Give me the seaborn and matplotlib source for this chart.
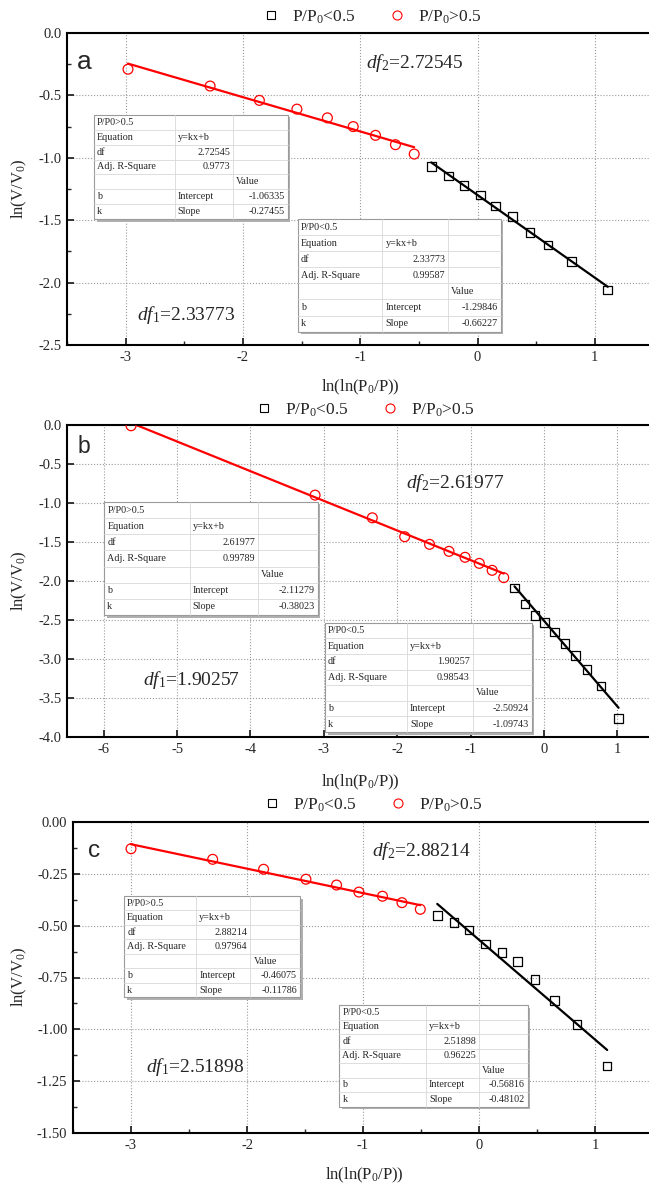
import numpy as np
import matplotlib
matplotlib.use('Agg')
import matplotlib.pyplot as plt
import matplotlib.ticker as mticker
import seaborn as sns
from matplotlib.lines import Line2D
from matplotlib.patches import Rectangle

# ---------------- data ----------------
# panel a
a_x_hi = [-2.98, -2.28, -1.86, -1.54, -1.28, -1.06, -0.87, -0.70, -0.54]
a_y_hi = [-0.29, -0.425, -0.54, -0.61, -0.68, -0.75, -0.82, -0.895, -0.97]
a_x_lo = [-0.394, -0.249, -0.114, 0.023, 0.153, 0.298, 0.447, 0.601, 0.80, 1.11]
a_y_lo = [-1.071, -1.146, -1.22, -1.298, -1.386, -1.472, -1.597, -1.70, -1.832, -2.06]
# panel b
b_x_hi = [-5.627, -3.119, -2.339, -1.898, -1.559, -1.294, -1.075, -0.881, -0.706, -0.548]
b_y_hi = [-0.01, -0.899, -1.19, -1.432, -1.53, -1.62, -1.696, -1.774, -1.863, -1.957]
b_x_lo = [-0.401, -0.259, -0.124, 0.005, 0.147, 0.288, 0.429, 0.588, 0.78, 1.017]
b_y_lo = [-2.09, -2.295, -2.44, -2.535, -2.654, -2.80, -2.953, -3.132, -3.346, -3.76]
# panel c
c_x_hi = [-3.0, -2.296, -1.857, -1.492, -1.228, -1.035, -0.832, -0.664, -0.506]
c_y_hi = [-0.129, -0.18, -0.228, -0.276, -0.304, -0.338, -0.358, -0.389, -0.421]
c_x_lo = [-0.36, -0.217, -0.088, 0.058, 0.197, 0.33, 0.483, 0.651, 0.844, 1.105]
c_y_lo = [-0.452, -0.486, -0.521, -0.589, -0.629, -0.674, -0.761, -0.86, -0.976, -1.177]

# fit results (hi = P/P0>0.5, lo = P/P0<0.5)
df_hi = ['2.72545', '2.61977', '2.88214']
r2_hi = ['0.9773', '0.99789', '0.97964']
b_hi = ['-1.06335', '-2.11279', '-0.46075']
k_hi = ['-0.27455', '-0.38023', '-0.11786']
df_lo = ['2.33773', '1.90257', '2.51898']
r2_lo = ['0.99587', '0.98543', '0.96225']
b_lo = ['-1.29846', '-2.50924', '-0.56816']
k_lo = ['-0.66227', '-1.09743', '-0.48102']
panel_letters = ['a', 'b', 'c']

# ---------------- style ----------------
sns.set_style('ticks')
plt.rcParams['font.family'] = ['Liberation Serif', 'DejaVu Serif']
plt.rcParams['mathtext.fontset'] = 'custom'
plt.rcParams['mathtext.rm'] = 'Liberation Serif'
plt.rcParams['mathtext.it'] = 'Liberation Serif:italic'
plt.rcParams['axes.unicode_minus'] = False
plt.rcParams['xtick.direction'] = 'in'
plt.rcParams['ytick.direction'] = 'in'

W, H = 649, 1187
fig = plt.figure(figsize=(W / 100, H / 100), dpi=100)


def fx(x):
    return x / W


def fy(y):
    return 1 - y / H


# layout in pixels: left, top, right, bottom (right edge runs just past the picture)
layouts = [
    dict(box=(67, 33, 653.5, 345), xlim=(-3.5, 1.5), ylim=(-2.5, 0.0), xmin=0.5,
         ymaj=0.5, ymin=0.25, yfmt='%.1f', leg=(371, 17), xlab=(360, 387), ylab=(19, 189),
         letter=(77, 69, 19), df2=(366, 68), df1=(137, 320),
         tab_hi=(94, 115, 287.7, 219, 174.7, 233), tab_lo=(298, 219, 500.8, 331.7, 382.4, 448.3)),
    dict(box=(67, 425, 654, 737), xlim=(-6.5, 1.5), ylim=(-4.0, 0.0), xmin=None,
         ymaj=0.5, ymin=None, yfmt='%.1f', leg=(364, 410), xlab=(360, 782), ylab=(19, 581),
         letter=(78, 453, 16.5), df2=(406, 488), df1=(143, 685),
         tab_hi=(104.3, 502, 317.9, 615, 189.6, 257.9), tab_lo=(325, 622.7, 531.8, 732, 406.9, 472.7)),
    dict(box=(73, 822, 653, 1133), xlim=(-3.5, 1.5), ylim=(-1.5, 0.0), xmin=0.5,
         ymaj=0.25, ymin=0.125, yfmt='%.2f', leg=(372, 805), xlab=(364, 1175), ylab=(19, 977),
         letter=(88, 857, 17.5), df2=(372, 856), df1=(146, 1072),
         tab_hi=(124.2, 896, 300.1, 997.3, 196.2, 250.4), tab_lo=(339.4, 1005, 527.7, 1106.7, 425.9, 479.3)),
]

xs_hi = [a_x_hi, b_x_hi, c_x_hi]
ys_hi = [a_y_hi, b_y_hi, c_y_hi]
xs_lo = [a_x_lo, b_x_lo, c_x_lo]
ys_lo = [a_y_lo, b_y_lo, c_y_lo]


def draw_table(left, top, right, bottom, c1, c2, title, df, r2, b, k):
    rows = [(title, '', ''), ('Equation', 'y=kx+b', ''), ('df', df, ''),
            ('Adj. R-Square', r2, ''), ('', '', 'Value'), ('b', 'Intercept', b),
            ('k', 'Slope', k)]
    # shadow
    fig.add_artist(Rectangle((fx(left + 2.5), fy(bottom + 2.5)), fx(right - left), (bottom - top) / H,
                             transform=fig.transFigure, facecolor='#b0b0b0', edgecolor='none', zorder=4))
    fig.add_artist(Rectangle((fx(left), fy(bottom)), fx(right - left), (bottom - top) / H,
                             transform=fig.transFigure, facecolor='white', edgecolor='#9a9a9a',
                             linewidth=0.8, zorder=5))
    rh = (bottom - top) / len(rows)
    for i in range(1, len(rows)):
        yy = fy(top + i * rh)
        fig.add_artist(Line2D([fx(left), fx(right)], [yy, yy], transform=fig.transFigure,
                              color='#d8d8d8', lw=0.6, zorder=6))
    for cx in (c1, c2):
        fig.add_artist(Line2D([fx(cx), fx(cx)], [fy(top), fy(bottom)], transform=fig.transFigure,
                              color='#d8d8d8', lw=0.6, zorder=6))
    bounds = [left, c1, c2, right]
    for i, row in enumerate(rows):
        yc = fy(top + (i + 0.5) * rh)
        for j, txt in enumerate(row):
            if not txt:
                continue
            right_al = (j == 1 and i in (2, 3)) or (j == 2 and i in (5, 6))
            if right_al:
                xx, ha = bounds[j + 1] - 3, 'right'
            else:
                xx, ha = bounds[j] + 3, 'left'
            fig.text(fx(xx), yc, txt, ha=ha, va='center', fontsize=7.3, zorder=7)


for p, L in enumerate(layouts):
    l, t, r, btm = L['box']
    ax = fig.add_axes([fx(l), fy(btm), fx(r - l), (btm - t) / H])
    sns.scatterplot(x=xs_lo[p], y=ys_lo[p], marker='s', s=38, facecolor='none',
                    edgecolor='black', linewidth=0.9, ax=ax, zorder=3)
    sns.scatterplot(x=xs_hi[p], y=ys_hi[p], marker='o', s=50, facecolor='none',
                    edgecolor='red', linewidth=0.9, ax=ax, zorder=3)
    # fitted lines from intercept / slope over the data range
    xh = np.array([min(xs_hi[p]), max(xs_hi[p])])
    sns.lineplot(x=xh, y=float(b_hi[p]) + float(k_hi[p]) * xh, color='red', lw=1.6, ax=ax, zorder=2)
    xl = np.array([min(xs_lo[p]), max(xs_lo[p])])
    sns.lineplot(x=xl, y=float(b_lo[p]) + float(k_lo[p]) * xl, color='black', lw=1.6, ax=ax, zorder=2)

    ax.set_xlim(*L['xlim'])
    ax.set_ylim(*L['ylim'])
    ax.xaxis.set_major_locator(mticker.MultipleLocator(1))
    ax.yaxis.set_major_locator(mticker.MultipleLocator(L['ymaj']))
    if L['xmin']:
        ax.xaxis.set_minor_locator(mticker.MultipleLocator(L['xmin']))
    if L['ymin']:
        ax.yaxis.set_minor_locator(mticker.MultipleLocator(L['ymin']))
    ax.xaxis.set_major_formatter(mticker.FormatStrFormatter('%d'))
    ax.yaxis.set_major_formatter(mticker.FormatStrFormatter(L['yfmt']))
    ax.tick_params(which='major', length=5, width=1.3, labelsize=10.5, top=False, right=False, pad=4)
    ax.tick_params(which='minor', length=3, width=1.0, top=False, right=False)
    ax.grid(True, which='major', linestyle=':', color='#9a9a9a', linewidth=0.8)
    for s in ax.spines.values():
        s.set_linewidth(1.5)
        s.set_color('black')

    axw, axh = r - l, btm - t
    ax.set_xlabel('ln(ln(P$_0$/P))', fontsize=12)
    ax.xaxis.set_label_coords((L['xlab'][0] - l) / axw, (btm - L['xlab'][1]) / axh)
    ax.xaxis.label.set_va('center')
    ax.set_ylabel('ln(V/V$_0$)', fontsize=12)
    ax.yaxis.set_label_coords((L['ylab'][0] - l) / axw, (btm - L['ylab'][1]) / axh)
    ax.yaxis.label.set_va('center')

    lx, ly, lsz = L['letter']
    fig.text(fx(lx), fy(ly), panel_letters[p], fontsize=lsz, family='Liberation Sans',
             ha='left', va='baseline')
    fig.text(fx(L['df2'][0]), fy(L['df2'][1]), r'$\mathit{df}_{\mathit{2}}$=' + df_hi[p],
             fontsize=14, ha='left', va='baseline')
    fig.text(fx(L['df1'][0]), fy(L['df1'][1]), r'$\mathit{df}_{\mathit{1}}$=' + df_lo[p],
             fontsize=14, ha='left', va='baseline')

    handles = [Line2D([], [], marker='s', ls='none', mfc='none', mec='black', ms=5.5, mew=0.8),
               Line2D([], [], marker='o', ls='none', mfc='none', mec='red', ms=6.5, mew=0.8)]
    fig.legend(handles, ['P/P$_0$<0.5', 'P/P$_0$>0.5'], loc='center', ncol=2, frameon=False,
               bbox_to_anchor=(fx(L['leg'][0]), fy(L['leg'][1])), fontsize=12.5,
               handletextpad=0.6, columnspacing=1.8, borderpad=0, handlelength=1.2)

    draw_table(*L['tab_hi'][:4], *L['tab_hi'][4:], 'P/P0>0.5', df_hi[p], r2_hi[p], b_hi[p], k_hi[p])
    draw_table(*L['tab_lo'][:4], *L['tab_lo'][4:], 'P/P0<0.5', df_lo[p], r2_lo[p], b_lo[p], k_lo[p])

fig.savefig('out.png', dpi=100)
